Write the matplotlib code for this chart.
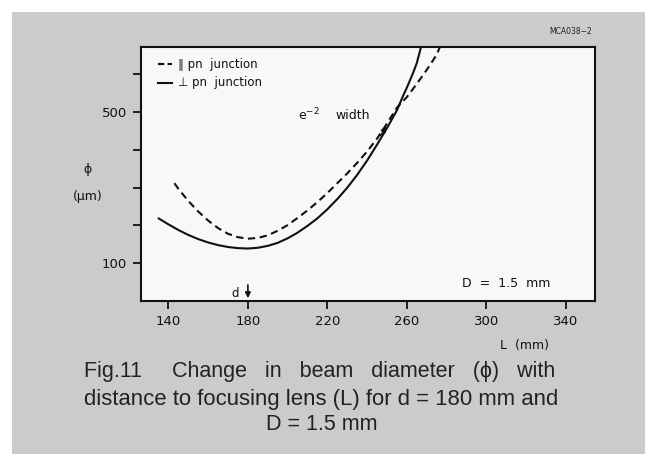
import matplotlib
matplotlib.use("Agg")
import matplotlib.pyplot as plt
from matplotlib.patches import Rectangle

# Beam diameter (um) versus distance to focusing lens L (mm)
L_perp = [135, 140, 145, 150, 155, 160, 165, 170, 175, 180, 185, 190, 195, 200,
          205, 210, 215, 220, 225, 230, 235, 240, 245, 250, 255, 258, 260, 263,
          265, 268]
phi_perp = [219, 203, 188, 175, 164, 155, 148, 143, 140, 139, 141, 146, 154, 166,
            181, 199, 219, 243, 270, 300, 334, 372, 414, 458, 505, 542, 565, 602,
            630, 690]

L_par = [143, 145, 150, 155, 160, 165, 170, 175, 180, 185, 190, 195, 200, 205,
         210, 215, 220, 225, 230, 235, 240, 245, 250, 255, 260, 265, 270, 275, 278]
phi_par = [312, 297, 265, 237, 213, 193, 178, 169, 165, 167, 174, 186, 201, 220,
           240, 262, 286, 312, 338, 366, 396, 430, 470, 512, 540, 575, 612, 652, 690]

x_ticks = [140, 180, 220, 260, 300, 340]
y_ticks = [100, 200, 300, 400, 500, 600]
y_labels = ["100", "", "", "", "500", ""]

W, H = 645, 454
fig = plt.figure(figsize=(W / 100, H / 100), dpi=100)
fig.patch.set_facecolor("white")

# grey page background with a thin white margin top and left
bg = Rectangle((12 / W, 0), 1 - 12 / W, 1 - 12 / H, transform=fig.transFigure,
               facecolor="#cbcbcb", edgecolor="none", zorder=-10)
fig.patches.append(bg)

ax = fig.add_axes([141 / W, 1 - 301 / H, 454 / W, 254.5 / H])
ax.set_zorder(5)
ax.set_facecolor("#f8f8f8")
ax.set_xlim(126.2, 354.7)
ax.set_ylim(0, 674)

ax.plot(L_perp, phi_perp, color="#111111", lw=1.5, solid_capstyle="round")
ax.plot(L_par, phi_par, color="#111111", lw=1.5, dashes=(3.5, 2.2))

for s in ax.spines.values():
    s.set_linewidth(1.5)
    s.set_color("#111111")

ax.set_xticks(x_ticks)
ax.set_xticklabels([str(v) for v in x_ticks])
ax.set_yticks(y_ticks)
ax.set_yticklabels(y_labels)
ax.tick_params(direction="out", length=6, width=1.3, colors="#111111",
               labelsize=9.5, pad=4)

# legend
ax.plot([0.037, 0.068], [0.931, 0.931], transform=ax.transAxes,
        color="#111111", lw=1.5, dashes=(3, 1.6))
ax.plot([0.037, 0.068], [0.857, 0.857], transform=ax.transAxes,
        color="#111111", lw=1.5)
ax.text(0.082, 0.931, "\u2225 pn  junction", transform=ax.transAxes,
        fontsize=8.5, va="center", ha="left", color="#111111")
ax.text(0.082, 0.857, "\u22a5 pn  junction", transform=ax.transAxes,
        fontsize=8.5, va="center", ha="left", color="#111111")

# e^-2 width marker
ax.text(205, 492, "e$^{-2}$", fontsize=9, va="center", ha="left",
        color="#111111")
ax.text(224, 490, "width", fontsize=9, va="center", ha="left",
        color="#111111")
ax.annotate("", xy=(250.5, 468), xytext=(246, 432),
            arrowprops=dict(arrowstyle="-|>", color="#111111", lw=1.0,
                            mutation_scale=8))

# d position marker
ax.text(173.5, 20, "d", fontsize=8.5, va="center", ha="center", color="#111111")
ax.annotate("", xy=(180, 0), xytext=(180, 50),
            arrowprops=dict(arrowstyle="-|>", color="#111111", lw=1.2,
                            mutation_scale=8))

ax.text(310, 46, "D  =  1.5  mm", fontsize=9, va="center", ha="center",
        color="#111111")

fig.text(592 / W, 1 - 31 / H, "MCA038\u22122", fontsize=5.5, ha="right",
         va="center", color="#222222")
fig.text(524 / W, 1 - 345 / H, "L  (mm)", fontsize=9, ha="center",
         va="center", color="#111111")
fig.text(88 / W, 1 - 170 / H, "\u03d5", fontsize=9, ha="center",
         va="center", color="#111111")
fig.text(88 / W, 1 - 197 / H, "(\u03bcm)", fontsize=9, ha="center",
         va="center", color="#111111")

# caption
cap_kw = dict(family="Liberation Sans", fontsize=15.5, ha="center",
              va="center", color="#222222")
fig.text(320 / W, 1 - 372 / H,
         "Fig.11     Change   in   beam   diameter   (\u03d5)   with", **cap_kw)
fig.text(321 / W, 1 - 399 / H,
         "distance to focusing lens (L) for d = 180 mm and",
         **{**cap_kw, "fontsize": 15.9})
fig.text(322 / W, 1 - 425 / H, "D = 1.5 mm", **cap_kw)

fig.savefig("out.png", dpi=100)
